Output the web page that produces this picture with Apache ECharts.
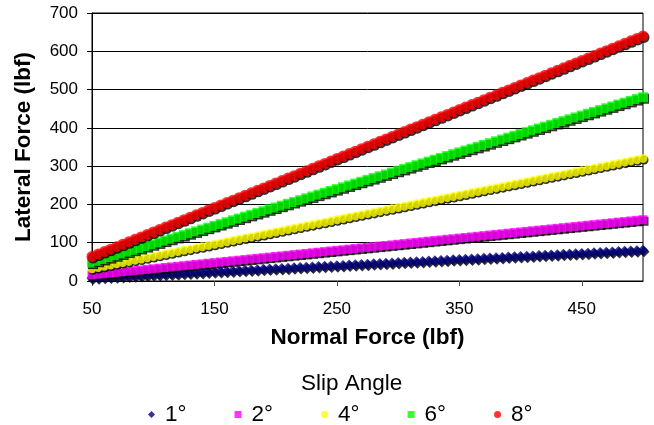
<!DOCTYPE html>
<html>
<head>
<meta charset="utf-8">
<script src="https://cdn.jsdelivr.net/npm/echarts@6/dist/echarts.min.js"></script>
<style>
    html, body { margin: 0; padding: 0; background: #fff; }
    #chart { width: 654px; height: 425px; }
</style>
</head>
<body>
<div id="chart"></div>
<script>
// normal force (lbf), one point every 5 lbf
var normalForce = [50, 55, 60, 65, 70, 75, 80, 85, 90, 95,
    100, 105, 110, 115, 120, 125, 130, 135, 140, 145,
    150, 155, 160, 165, 170, 175, 180, 185, 190, 195,
    200, 205, 210, 215, 220, 225, 230, 235, 240, 245,
    250, 255, 260, 265, 270, 275, 280, 285, 290, 295,
    300, 305, 310, 315, 320, 325, 330, 335, 340, 345,
    350, 355, 360, 365, 370, 375, 380, 385, 390, 395,
    400, 405, 410, 415, 420, 425, 430, 435, 440, 445,
    450, 455, 460, 465, 470, 475, 480, 485, 490, 495, 500];

// lateral force (lbf) per slip angle
var slip1 = [8.0, 8.8, 9.6, 10.4, 11.2, 12.0, 12.8, 13.6, 14.4, 15.2,
    16.0, 16.8, 17.6, 18.4, 19.2, 20.0, 20.8, 21.6, 22.4, 23.2,
    24.0, 24.8, 25.6, 26.4, 27.2, 28.0, 28.8, 29.6, 30.4, 31.2,
    32.0, 32.8, 33.6, 34.4, 35.2, 36.0, 36.8, 37.6, 38.4, 39.2,
    40.0, 40.8, 41.6, 42.4, 43.2, 44.0, 44.8, 45.6, 46.4, 47.2,
    48.0, 48.8, 49.6, 50.4, 51.2, 52.0, 52.8, 53.6, 54.4, 55.2,
    56.0, 56.8, 57.6, 58.4, 59.2, 60.0, 60.8, 61.6, 62.4, 63.2,
    64.0, 64.8, 65.6, 66.4, 67.2, 68.0, 68.8, 69.6, 70.4, 71.2,
    72.0, 72.8, 73.6, 74.4, 75.2, 76.0, 76.8, 77.6, 78.4, 79.2, 80.0];
var slip2 = [16.0, 17.6, 19.2, 20.8, 22.4, 24.0, 25.6, 27.2, 28.8, 30.4,
    32.0, 33.6, 35.2, 36.8, 38.4, 40.0, 41.6, 43.2, 44.8, 46.4,
    48.0, 49.6, 51.2, 52.8, 54.4, 56.0, 57.6, 59.2, 60.8, 62.4,
    64.0, 65.6, 67.2, 68.8, 70.4, 72.0, 73.6, 75.2, 76.8, 78.4,
    80.0, 81.6, 83.2, 84.8, 86.4, 88.0, 89.6, 91.2, 92.8, 94.4,
    96.0, 97.6, 99.2, 100.8, 102.4, 104.0, 105.6, 107.2, 108.8, 110.4,
    112.0, 113.6, 115.2, 116.8, 118.4, 120.0, 121.6, 123.2, 124.8, 126.4,
    128.0, 129.6, 131.2, 132.8, 134.4, 136.0, 137.6, 139.2, 140.8, 142.4,
    144.0, 145.6, 147.2, 148.8, 150.4, 152.0, 153.6, 155.2, 156.8, 158.4, 160.0];
var slip4 = [32.0, 35.2, 38.4, 41.6, 44.8, 48.0, 51.2, 54.4, 57.6, 60.8,
    64.0, 67.2, 70.4, 73.6, 76.8, 80.0, 83.2, 86.4, 89.6, 92.8,
    96.0, 99.2, 102.4, 105.6, 108.8, 112.0, 115.2, 118.4, 121.6, 124.8,
    128.0, 131.2, 134.4, 137.6, 140.8, 144.0, 147.2, 150.4, 153.6, 156.8,
    160.0, 163.2, 166.4, 169.6, 172.8, 176.0, 179.2, 182.4, 185.6, 188.8,
    192.0, 195.2, 198.4, 201.6, 204.8, 208.0, 211.2, 214.4, 217.6, 220.8,
    224.0, 227.2, 230.4, 233.6, 236.8, 240.0, 243.2, 246.4, 249.6, 252.8,
    256.0, 259.2, 262.4, 265.6, 268.8, 272.0, 275.2, 278.4, 281.6, 284.8,
    288.0, 291.2, 294.4, 297.6, 300.8, 304.0, 307.2, 310.4, 313.6, 316.8, 320.0];
var slip6 = [48.0, 52.8, 57.6, 62.4, 67.2, 72.0, 76.8, 81.6, 86.4, 91.2,
    96.0, 100.8, 105.6, 110.4, 115.2, 120.0, 124.8, 129.6, 134.4, 139.2,
    144.0, 148.8, 153.6, 158.4, 163.2, 168.0, 172.8, 177.6, 182.4, 187.2,
    192.0, 196.8, 201.6, 206.4, 211.2, 216.0, 220.8, 225.6, 230.4, 235.2,
    240.0, 244.8, 249.6, 254.4, 259.2, 264.0, 268.8, 273.6, 278.4, 283.2,
    288.0, 292.8, 297.6, 302.4, 307.2, 312.0, 316.8, 321.6, 326.4, 331.2,
    336.0, 340.8, 345.6, 350.4, 355.2, 360.0, 364.8, 369.6, 374.4, 379.2,
    384.0, 388.8, 393.6, 398.4, 403.2, 408.0, 412.8, 417.6, 422.4, 427.2,
    432.0, 436.8, 441.6, 446.4, 451.2, 456.0, 460.8, 465.6, 470.4, 475.2, 480.0];
var slip8 = [64.0, 70.4, 76.8, 83.2, 89.6, 96.0, 102.4, 108.8, 115.2, 121.6,
    128.0, 134.4, 140.8, 147.2, 153.6, 160.0, 166.4, 172.8, 179.2, 185.6,
    192.0, 198.4, 204.8, 211.2, 217.6, 224.0, 230.4, 236.8, 243.2, 249.6,
    256.0, 262.4, 268.8, 275.2, 281.6, 288.0, 294.4, 300.8, 307.2, 313.6,
    320.0, 326.4, 332.8, 339.2, 345.6, 352.0, 358.4, 364.8, 371.2, 377.6,
    384.0, 390.4, 396.8, 403.2, 409.6, 416.0, 422.4, 428.8, 435.2, 441.6,
    448.0, 454.4, 460.8, 467.2, 473.6, 480.0, 486.4, 492.8, 499.2, 505.6,
    512.0, 518.4, 524.8, 531.2, 537.6, 544.0, 550.4, 556.8, 563.2, 569.6,
    576.0, 582.4, 588.8, 595.2, 601.6, 608.0, 614.4, 620.8, 627.2, 633.6, 640.0];

var seriesNames = ['1°', '2°', '4°', '6°', '8°'];
var seriesValues = [slip1, slip2, slip4, slip6, slip8];
var seriesColors = ['#000080', '#FF00FF', '#FFFF00', '#00FF00', '#FF0000'];
var seriesSymbols = ['diamond', 'rect', 'circle', 'rect', 'circle'];
var symbolSizes = [11, 9, 9, 10, 11];

var font = 'Liberation Sans, Arial, sans-serif';

function pairs(ys) {
    var out = [];
    for (var i = 0; i < normalForce.length; i++) {
        out.push([normalForce[i], ys[i]]);
    }
    return out;
}

var series = [];
for (var i = 0; i < seriesNames.length; i++) {
    series.push({
        name: seriesNames[i],
        type: 'scatter',
        symbol: seriesSymbols[i],
        symbolSize: symbolSizes[i],
        itemStyle: {
            color: seriesColors[i],
            shadowColor: '#000',
            shadowOffsetX: 1,
            shadowOffsetY: 1.5,
            shadowBlur: 0
        },
        data: pairs(seriesValues[i])
    });
}

var myChart = echarts.init(document.getElementById('chart'));
myChart.setOption({
    animation: false,
    textStyle: { fontFamily: font },
    grid: {
        left: 92, right: 11, top: 13, bottom: 144,
        show: true, borderColor: '#000', borderWidth: 1
    },
    title: {
        text: 'Slip Angle',
        left: 296, top: 367,
        textStyle: { fontFamily: font, fontSize: 22.5, fontWeight: 'normal', color: '#000' }
    },
    legend: {
        data: seriesNames,
        left: 143, top: 398,
        itemWidth: 7, itemHeight: 7,
        itemGap: 48,
        textStyle: { fontFamily: font, fontSize: 22.5, color: '#000', padding: [0, 0, 0, 5] }
    },
    xAxis: {
        type: 'value',
        min: 50, max: 500, interval: 100,
        name: 'Normal Force (lbf)',
        nameLocation: 'middle',
        nameGap: 45,
        nameTextStyle: { fontFamily: font, fontSize: 22.5, fontWeight: 'bold', color: '#000' },
        axisLine: { show: true, lineStyle: { color: '#000' } },
        axisTick: { show: true, length: 5, lineStyle: { color: '#555' } },
        axisLabel: { margin: 20, fontSize: 17, color: '#000', showMaxLabel: false },
        splitLine: { show: false }
    },
    yAxis: {
        type: 'value',
        min: 0, max: 700, interval: 100,
        name: 'Lateral Force (lbf)',
        nameLocation: 'middle',
        nameGap: 57,
        nameTextStyle: { fontFamily: font, fontSize: 22.5, fontWeight: 'bold', color: '#000' },
        axisLine: { show: true, lineStyle: { color: '#000' } },
        axisTick: { show: true, length: 5, lineStyle: { color: '#000' } },
        axisLabel: { margin: 14, fontSize: 17, color: '#000' },
        splitLine: { show: true, lineStyle: { color: '#000', width: 1 } }
    },
    series: series
});
</script>
</body>
</html>
